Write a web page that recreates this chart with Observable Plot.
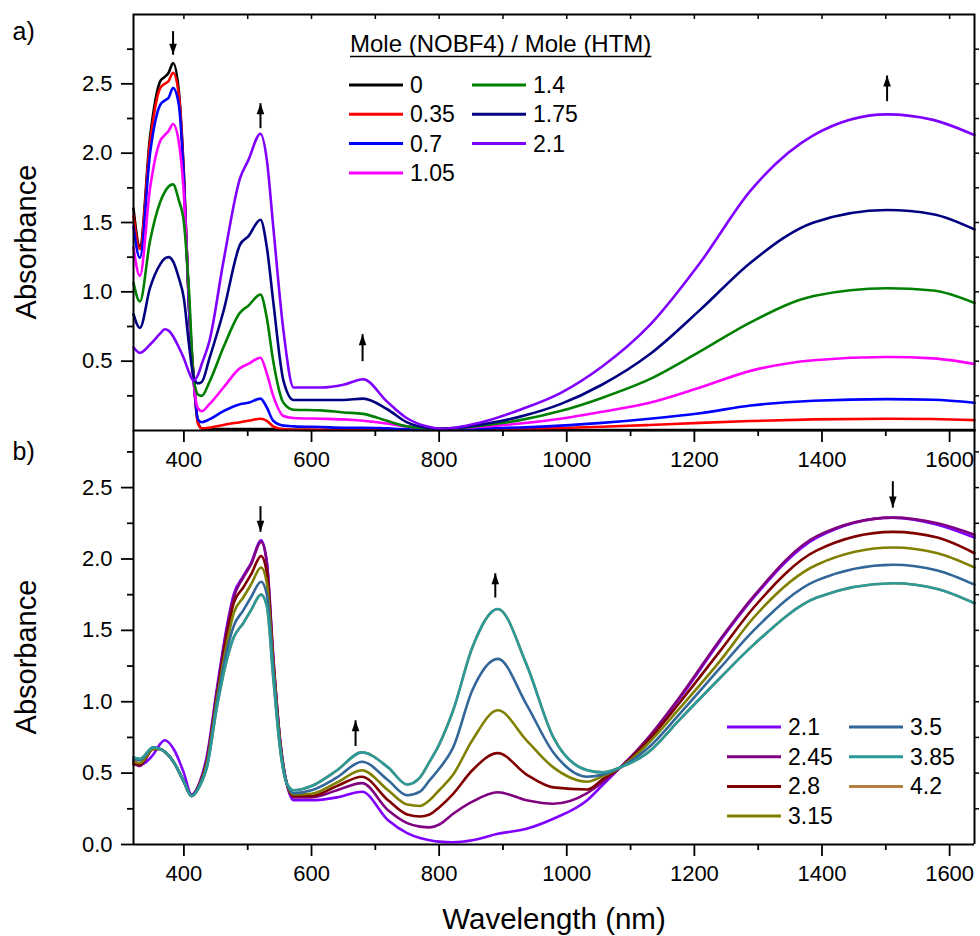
<!DOCTYPE html>
<html><head><meta charset="utf-8">
<script src="https://cdn.jsdelivr.net/npm/d3@7"></script>
<script src="https://cdn.jsdelivr.net/npm/@observablehq/plot@0.6"></script>
<style>
body{margin:0;background:#fff;}
#wrap{position:relative;width:980px;height:936px;overflow:hidden;font-family:"Liberation Sans",Arial,sans-serif;}
#wrap svg{position:absolute;left:0;overflow:visible;}
</style></head><body><div id="wrap"></div>
<script>
// ---------- Panel a data ----------
const wlA = [321,331,347,363,370,376,383,392,400,408,415,422,428,440,462,488,501,520,530,540,556,572,615,650,681,718,749,780,802,875,927,990,1055,1130,1209,1288,1387,1502,1574,1639];
const seriesA = ["0","0.35","0.7","1.05","1.4","1.75","2.1"];
const colorsA = ["#000000","#ff0000","#0000ff","#ff00ff","#008000","#000080","#8000ff"];
const a_0    = [1.60,1.33,2.12,2.52,2.55,2.58,2.65,2.45,1.85,0.89,0.40,0.06,0.015,0.01,0.01,0.01,0.01,0.01,0.01,0.01,0.005,0.005,0.004,0.004,0.004,0.004,0.004,0.004,0.004,0.004,0.004,0.004,0.004,0.004,0.004,0.004,0.004,0.004,0.004,0.004];
const a_035  = [1.55,1.31,2.08,2.47,2.50,2.52,2.58,2.42,1.83,0.88,0.39,0.05,0.015,0.02,0.04,0.06,0.07,0.085,0.07,0.03,0.01,0.005,0.005,0.005,0.005,0.005,0.005,0.005,0.005,0.008,0.012,0.018,0.027,0.04,0.055,0.068,0.08,0.085,0.083,0.075];
const a_07   = [1.47,1.245,2.00,2.35,2.38,2.40,2.47,2.35,1.80,0.88,0.38,0.08,0.06,0.08,0.14,0.19,0.20,0.23,0.166,0.07,0.035,0.03,0.025,0.02,0.02,0.015,0.01,0.008,0.008,0.015,0.022,0.035,0.055,0.085,0.125,0.18,0.215,0.226,0.222,0.20];
const a_105  = [1.32,1.115,1.75,2.09,2.13,2.16,2.21,2.08,1.70,0.95,0.37,0.16,0.14,0.19,0.31,0.45,0.48,0.525,0.41,0.25,0.105,0.09,0.085,0.08,0.07,0.05,0.03,0.015,0.012,0.03,0.05,0.085,0.135,0.20,0.31,0.43,0.507,0.53,0.52,0.48];
const a_14   = [1.065,0.93,1.37,1.65,1.72,1.76,1.775,1.66,1.50,1.00,0.40,0.26,0.25,0.35,0.60,0.85,0.90,0.98,0.81,0.50,0.20,0.15,0.145,0.13,0.12,0.07,0.03,0.015,0.012,0.04,0.075,0.14,0.235,0.37,0.57,0.78,0.97,1.026,1.01,0.92];
const a_175  = [0.84,0.74,1.03,1.20,1.24,1.25,1.22,1.10,0.95,0.62,0.39,0.34,0.35,0.52,0.86,1.34,1.40,1.52,1.32,0.93,0.36,0.22,0.22,0.22,0.23,0.155,0.06,0.02,0.012,0.05,0.10,0.19,0.33,0.55,0.87,1.21,1.50,1.59,1.56,1.45];
const a_21   = [0.60,0.56,0.62,0.70,0.73,0.72,0.68,0.60,0.52,0.42,0.36,0.40,0.48,0.645,1.22,1.82,1.95,2.14,1.95,1.47,0.72,0.31,0.31,0.33,0.37,0.21,0.09,0.03,0.012,0.07,0.15,0.27,0.46,0.76,1.21,1.73,2.13,2.28,2.24,2.13];
const valuesA = [a_0,a_035,a_07,a_105,a_14,a_175,a_21];

// ---------- Panel b data ----------
const wlB = [321,331,352,362,370,385,400,412,425,436,452,467,478,493,505,521,530,540,551,561,572,600,640,679,720,750,770,785,800,822,852,892,937,979,1032,1057,1084,1126,1178,1241,1293,1392,1511,1581,1639];
const seriesB = ["2.1","2.45","2.8","3.15","3.5","3.85","4.2"];
const colorsB = ["#8000ff","#800080","#800000","#808000","#336699","#2a9a9a","#b5803e"];
const b_21   = [0.59,0.56,0.63,0.70,0.73,0.66,0.50,0.35,0.44,0.62,1.10,1.52,1.75,1.88,1.97,2.13,1.98,1.32,0.72,0.43,0.31,0.31,0.33,0.37,0.17,0.08,0.045,0.03,0.02,0.016,0.03,0.075,0.11,0.18,0.31,0.42,0.54,0.73,1.03,1.43,1.73,2.15,2.29,2.24,2.15];
const b_245  = [0.57,0.55,0.67,0.67,0.65,0.57,0.44,0.34,0.43,0.60,1.08,1.50,1.73,1.87,1.96,2.12,1.97,1.31,0.72,0.43,0.33,0.33,0.38,0.43,0.24,0.15,0.125,0.12,0.14,0.215,0.30,0.366,0.31,0.285,0.36,0.44,0.54,0.74,1.04,1.44,1.74,2.16,2.29,2.25,2.17];
const b_28   = [0.56,0.56,0.67,0.67,0.65,0.57,0.44,0.34,0.43,0.58,1.05,1.46,1.69,1.80,1.89,2.02,1.90,1.29,0.71,0.43,0.34,0.34,0.41,0.475,0.31,0.21,0.196,0.21,0.26,0.355,0.52,0.64,0.49,0.40,0.385,0.46,0.54,0.72,1.00,1.36,1.66,2.06,2.19,2.15,2.04];
const b_315  = [0.58,0.57,0.67,0.67,0.65,0.57,0.44,0.34,0.42,0.57,1.03,1.40,1.62,1.73,1.82,1.94,1.83,1.26,0.70,0.43,0.35,0.355,0.435,0.52,0.38,0.28,0.27,0.31,0.38,0.49,0.73,0.94,0.73,0.54,0.44,0.48,0.54,0.70,0.96,1.29,1.59,1.96,2.08,2.04,1.94];
const b_35   = [0.60,0.59,0.68,0.67,0.65,0.57,0.44,0.34,0.42,0.55,1.00,1.35,1.53,1.64,1.73,1.84,1.75,1.22,0.68,0.43,0.36,0.38,0.47,0.58,0.45,0.345,0.37,0.45,0.53,0.68,1.08,1.30,0.98,0.645,0.475,0.49,0.54,0.67,0.92,1.24,1.50,1.85,1.96,1.92,1.82];
const b_385  = [0.61,0.60,0.68,0.67,0.65,0.57,0.44,0.34,0.41,0.54,0.97,1.29,1.45,1.55,1.64,1.75,1.67,1.17,0.66,0.43,0.38,0.41,0.52,0.645,0.54,0.42,0.47,0.58,0.70,0.94,1.38,1.65,1.26,0.75,0.52,0.505,0.54,0.64,0.88,1.17,1.40,1.73,1.83,1.79,1.69];
// 4.2 is hidden beneath 3.85 in the reference
const b_42   = [0.61,0.60,0.68,0.67,0.65,0.57,0.44,0.34,0.41,0.54,0.97,1.29,1.45,1.55,1.64,1.75,1.67,1.17,0.66,0.43,0.38,0.41,0.52,0.645,0.54,0.42,0.47,0.58,0.70,0.94,1.38,1.65,1.26,0.75,0.52,0.505,0.54,0.64,0.88,1.17,1.40,1.73,1.83,1.79,1.69];
const valuesB = [b_21,b_245,b_28,b_315,b_35,b_385,b_42];
const drawOrderB = ["4.2","2.1","2.45","2.8","3.15","3.5","3.85"];

// ---------- arrows ----------
const arrowA_x = [383,520,680,1502], arrowA_from = [2.88,2.18,0.50,2.375], arrowA_to = [2.71,2.36,0.695,2.56];
const arrowB_x = [520,669,888,1511], arrowB_from = [2.37,0.69,1.73,2.545], arrowB_to = [2.19,0.87,1.90,2.36];

// ---------- ticks / labels ----------
const majorX = [400,600,800,1000,1200,1400,1600];
const minorX = [500,700,900,1100,1300,1500];
const allX = [400,500,600,700,800,900,1000,1100,1200,1300,1400,1500,1600];
const yMajorA = [0.5,1.0,1.5,2.0,2.5];
const yMajorB = [0.0,0.5,1.0,1.5,2.0,2.5];
const yMinor = [0.25,0.75,1.25,1.75,2.25,2.75];
const yAll = [0.25,0.5,0.75,1.0,1.25,1.5,1.75,2.0,2.25,2.5,2.75];
const legendTitleA = "Mole (NOBF4) / Mole (HTM)";
const yLabel = "Absorbance", xLabel = "Wavelength (nm)";

function tidy(wl, names, arrs, order) {
  const out = [];
  (order || names).forEach(n => { const i = names.indexOf(n); arrs[i].forEach((v, j) => out.push({wl: wl[j], abs: v, s: n})); });
  return out;
}
const dataA = tidy(wlA, seriesA, valuesA);
const dataB = tidy(wlB, seriesB, valuesB, drawOrderB);

const upHead = {draw(c){c.moveTo(0,0);c.lineTo(3.8,11);c.lineTo(-3.8,11);c.closePath();}};
const downHead = {draw(c){c.moveTo(0,0);c.lineTo(3.8,-11);c.lineTo(-3.8,-11);c.closePath();}};
function arrowMarks(xs, from, to) {
  const idx = xs.map((_, i) => i);
  const up = idx.filter(i => to[i] > from[i]), dn = idx.filter(i => to[i] <= from[i]);
  return [
    Plot.link(idx, {x1: i => xs[i], x2: i => xs[i], y1: i => from[i], y2: i => to[i], stroke: "#000", strokeWidth: 2}),
    Plot.dot(up, {x: i => xs[i], y: i => to[i], symbol: upHead, fill: "#000", stroke: null, r: 4}),
    Plot.dot(dn, {x: i => xs[i], y: i => to[i], symbol: downHead, fill: "#000", stroke: null, r: 4})
  ];
}
const blank = () => "";
const xFmt = d => String(d);
const yFmt = d3.format(".1f");
const font = "'Liberation Sans', Arial, sans-serif";
const styleObj = {fontFamily: font, fontSize: "22px", background: "transparent", overflow: "visible", color: "#000"};

const plotA = Plot.plot({
  width: 980, height: 480, marginLeft: 133, marginRight: 6, marginTop: 14, marginBottom: 50,
  style: styleObj,
  x: {domain: [321, 1639]},
  y: {domain: [0, 3]},
  color: {domain: seriesA, range: colorsA},
  marks: [
    Plot.line(dataA, {x: "wl", y: "abs", z: "s", stroke: "s", strokeWidth: 2.6, curve: "monotone-x"}),
    Plot.frame({stroke: "#000", strokeWidth: 2}),
    Plot.axisX({ticks: majorX, anchor: "bottom", tickSize: 12, tickPadding: 9, fontSize: 22, tickFormat: xFmt, strokeWidth: 1.8, label: null}),
    Plot.axisX({ticks: minorX, anchor: "bottom", tickSize: 6, tickFormat: blank, strokeWidth: 1.8, label: null}),
    Plot.axisX({ticks: allX, anchor: "top", tickSize: 4, dy: 4, tickFormat: blank, strokeWidth: 1.5, label: null}),
    Plot.axisY({ticks: yMajorA, anchor: "left", tickSize: 12, tickPadding: 9, fontSize: 22, tickFormat: yFmt, strokeWidth: 1.8, label: null}),
    Plot.axisY({ticks: yMinor, anchor: "left", tickSize: 6, tickFormat: blank, strokeWidth: 1.8, label: null}),
    Plot.axisY({ticks: yAll, anchor: "right", tickSize: 4, tickFormat: blank, strokeWidth: 1.5, label: null}),
    ...arrowMarks(arrowA_x, arrowA_from, arrowA_to),
    Plot.text([yLabel], {frameAnchor: "left", rotate: -90, dx: -98, dy: 19.5, fontSize: 29, lineAnchor: "bottom", textAnchor: "middle"}),
    Plot.text(["a)"], {frameAnchor: "top-left", dx: -121, dy: 25, fontSize: 25, lineAnchor: "bottom", textAnchor: "start"})
  ]
});

const plotB = Plot.plot({
  width: 980, height: 506, marginLeft: 133, marginRight: 6, marginTop: 0, marginBottom: 92,
  style: styleObj,
  x: {domain: [321, 1639]},
  y: {domain: [0, 2.9]},
  color: {domain: seriesB, range: colorsB},
  marks: [
    Plot.line(dataB, {x: "wl", y: "abs", z: "s", stroke: "s", strokeWidth: 2.6, curve: "monotone-x"}),
    Plot.ruleY([0], {stroke: "#000", strokeWidth: 2}),
    Plot.ruleX([321, 1639], {stroke: "#000", strokeWidth: 2}),
    Plot.axisX({ticks: majorX, anchor: "bottom", tickSize: 12, tickPadding: 9, fontSize: 22, tickFormat: xFmt, strokeWidth: 1.8, label: null}),
    Plot.axisX({ticks: minorX, anchor: "bottom", tickSize: 6, tickFormat: blank, strokeWidth: 1.8, label: null}),
    Plot.axisY({ticks: yMajorB, anchor: "left", tickSize: 12, tickPadding: 9, fontSize: 22, tickFormat: yFmt, strokeWidth: 1.8, label: null}),
    Plot.axisY({ticks: yMinor, anchor: "left", tickSize: 6, tickFormat: blank, strokeWidth: 1.8, label: null}),
    Plot.axisY({ticks: yAll, anchor: "right", tickSize: 4, tickFormat: blank, strokeWidth: 1.5, label: null}),
    ...arrowMarks(arrowB_x, arrowB_from, arrowB_to),
    Plot.text([yLabel], {frameAnchor: "left", rotate: -90, dx: -98, dy: 19.5, fontSize: 29, lineAnchor: "bottom", textAnchor: "middle"}),
    Plot.text([xLabel], {frameAnchor: "bottom", dy: 84, fontSize: 29.5, lineAnchor: "bottom", textAnchor: "middle"}),
    Plot.text(["b)"], {frameAnchor: "top-left", dx: -121, dy: 29, fontSize: 25, lineAnchor: "bottom", textAnchor: "start"})
  ]
});

const wrap = document.getElementById("wrap");
plotB.style.top = "430px";
plotA.style.top = "0px";
wrap.appendChild(plotB);
wrap.appendChild(plotA);

// ---------- legends (inside the plot areas) ----------
function legend(svg, names, colors, opt) {
  const g = d3.select(svg).append("g").attr("font-family", font).attr("font-size", 23).attr("text-anchor", "start");
  names.forEach((n, i) => {
    const col = i < opt.perCol ? 0 : 1, row = i < opt.perCol ? i : i - opt.perCol;
    const y = opt.y0 + row * opt.dy;
    const lx = opt.cols[col];
    g.append("line").attr("x1", lx).attr("x2", lx + 54).attr("y1", y).attr("y2", y)
      .attr("stroke", colors[i]).attr("stroke-width", 3);
    g.append("text").attr("x", lx + 61).attr("y", y).attr("dy", "0.35em").attr("text-anchor", "start").attr("fill", "#000").text(n);
  });
  if (opt.title) {
    const t = g.append("text").attr("x", opt.title.x).attr("y", opt.title.y).attr("text-anchor", "start")
      .attr("font-size", 24).attr("fill", "#000").text(opt.title.text);
    const w = t.node().getComputedTextLength();
    g.append("line").attr("x1", opt.title.x).attr("x2", opt.title.x + w).attr("y1", opt.title.y + 4.5).attr("y2", opt.title.y + 4.5)
      .attr("stroke", "#000").attr("stroke-width", 1.6);
  }
}
legend(plotA, seriesA, colorsA, {perCol: 4, y0: 85, dy: 29.3, cols: [349, 472], title: {x: 350, y: 52, text: legendTitleA}});
legend(plotB, seriesB, colorsB, {perCol: 4, y0: 297, dy: 29.7, cols: [727, 849]});
</script></body></html>
